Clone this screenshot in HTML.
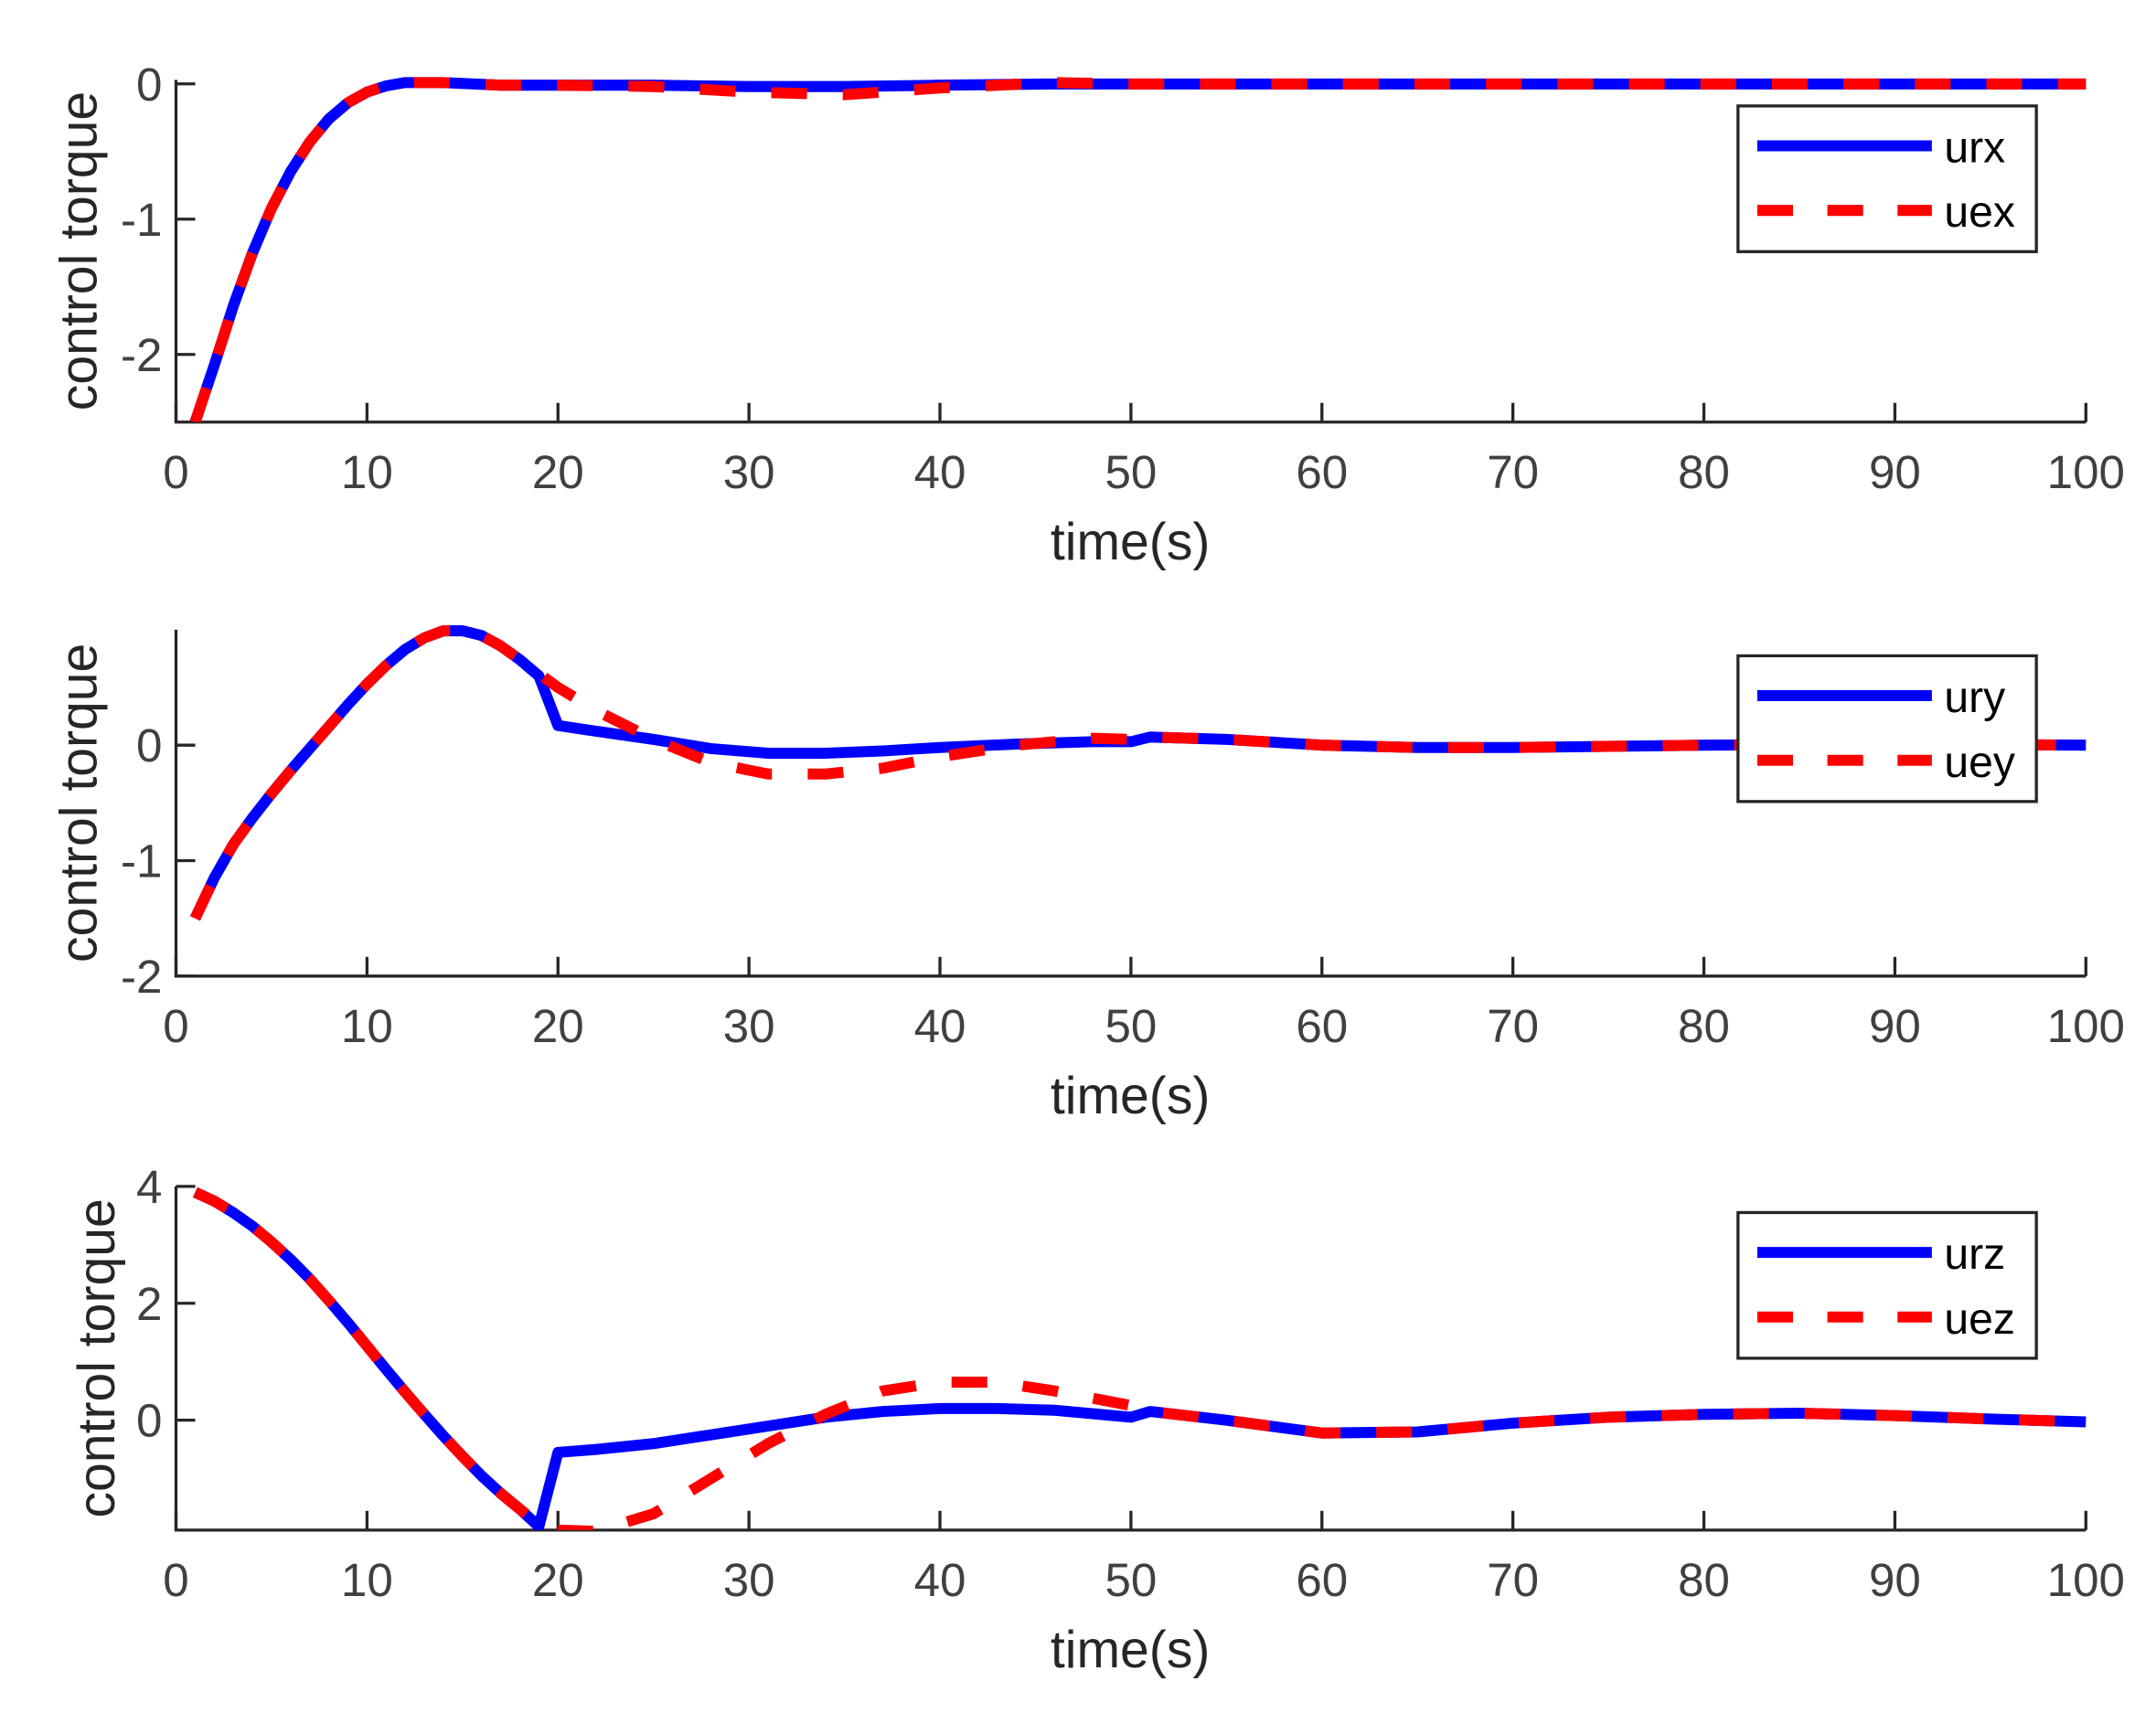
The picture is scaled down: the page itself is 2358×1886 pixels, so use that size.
<!DOCTYPE html>
<html><head><meta charset="utf-8"><style>
html,body{margin:0;padding:0;background:#fff;}
svg{display:block;}
text{font-family:"Liberation Sans",Arial,sans-serif;}
</style></head><body>
<svg id="fig" width="2358" height="1886" viewBox="0 0 1568 1254" xmlns="http://www.w3.org/2000/svg"></svg>
<script>
const xTicks=[0,10,20,30,40,50,60,70,80,90,100];
const t1=[1,2,3,4,5,6,7,8,9,10,11,12,14,17,20,25,30,35,40,46,50,60,70,80,90,100];
const urx=[-2.5,-2.08,-1.64,-1.25,-0.92,-0.65,-0.43,-0.26,-0.14,-0.06,-0.015,0.01,0.01,-0.01,-0.01,-0.01,-0.02,-0.02,-0.01,0,0,0,0,0,0,0];
const uex=[-2.5,-2.08,-1.64,-1.25,-0.92,-0.65,-0.43,-0.26,-0.14,-0.06,-0.015,0.01,0.01,-0.01,-0.01,-0.02,-0.06,-0.08,-0.03,0.01,0,0,0,0,0,0];
const yTicks1=[-2,-1,0];
const t2=[1,2,3,4,5,6,7,8,9,10,11,12,13,14,15,16,17,18,19,20,22,25,28,31,34,37,40,44,48,50,51,55,60,65,70,80,90,100];
const ury=[-1.5,-1.15,-0.86,-0.63,-0.42,-0.22,-0.03,0.16,0.35,0.53,0.69,0.83,0.93,0.99,0.99,0.95,0.86,0.74,0.6,0.17,0.12,0.05,-0.03,-0.07,-0.07,-0.05,-0.02,0.01,0.03,0.03,0.07,0.05,0,-0.02,-0.02,0,0.01,0];
const uey=[-1.5,-1.15,-0.86,-0.63,-0.42,-0.22,-0.03,0.16,0.35,0.53,0.69,0.83,0.93,0.99,0.99,0.95,0.86,0.74,0.62,0.5,0.3,0.05,-0.15,-0.25,-0.25,-0.2,-0.1,0,0.06,0.05,0.07,0.05,0,-0.02,-0.02,0,0.01,0];
const yTicks2=[-2,-1,0];
const t3=[1,2,3,4,5,6,7,8,9,10,11,12,13,14,15,16,17,18,19,20,22,25,28,31,34,37,40,43,46,50,51,55,60,65,70,75,80,85,90,95,100];
const urz=[3.9,3.75,3.55,3.32,3.05,2.75,2.42,2.05,1.67,1.27,0.87,0.48,0.1,-0.27,-0.62,-0.95,-1.25,-1.52,-1.82,-0.55,-0.5,-0.4,-0.25,-0.1,0.05,0.15,0.2,0.2,0.17,0.05,0.15,0,-0.22,-0.2,-0.05,0.05,0.1,0.12,0.08,0.02,-0.03];
const uez=[3.9,3.75,3.55,3.32,3.05,2.75,2.42,2.05,1.67,1.27,0.87,0.48,0.1,-0.27,-0.62,-0.95,-1.25,-1.52,-1.78,-1.88,-1.9,-1.6,-1.0,-0.4,0.1,0.5,0.65,0.65,0.5,0.25,0.15,0,-0.22,-0.2,-0.05,0.05,0.1,0.12,0.08,0.02,-0.03];
const yTicks3=[0,2,4];

const NS="http://www.w3.org/2000/svg";
const svg=document.getElementById('fig');
function mk(tag,attrs,parent){const e=document.createElementNS(NS,tag);for(const k in attrs)e.setAttribute(k,attrs[k]);(parent||svg).appendChild(e);return e;}
const X0=128,X1=1517;
function sx(v){return X0+(v-0)/(100-0)*(X1-X0);}

function panel(idx,top,bottom,ymin,ymax,yTicks,t,sa,sb,namA,namB,ylabX){
  const g=mk('g',{});
  
  
  const sy=v=>bottom-(v-ymin)/(ymax-ymin)*(bottom-top);
  const cp=mk('clipPath',{id:'cp'+idx},g);
  mk('rect',{x:X0,y:top-6,width:X1-X0+4,height:bottom-top+6},cp);
  const ax=mk('path',{d:`M${X0},${top} L${X0},${bottom} L${X1},${bottom}`,fill:'none',stroke:'#262626','stroke-width':2.2},g);
  
  
  xTicks.forEach(v=>{
    const x=sx(v);
    mk('line',{x1:x,x2:x,y1:bottom,y2:bottom-14,stroke:'#262626','stroke-width':2.2},g);
    const tx=mk('text',{x:x,y:bottom+48,'font-size':34,fill:'#404040','text-anchor':'middle'},g);
    tx.textContent=v;
    
    
  });
  yTicks.forEach(v=>{
    const y=sy(v);
    mk('line',{x1:X0,x2:X0+14,y1:y,y2:y,stroke:'#262626','stroke-width':2.2},g);
    const tx=mk('text',{x:X0-10,y:y+12,'font-size':34,fill:'#404040','text-anchor':'end'},g);
    tx.textContent=v;
    
    
  });
  const xl=mk('text',{x:822,y:bottom+100,'font-size':38,fill:'#262626','text-anchor':'middle'},g);
  xl.textContent='time(s)';
  
  
  const cy=(top+bottom)/2;
  const yl=mk('text',{x:ylabX+13,y:cy,'font-size':38,fill:'#262626','text-anchor':'middle',transform:`rotate(-90 ${ylabX+13} ${cy})`},g);
  yl.textContent='control torque';
  
  
  const pts=a=>t.map((v,i)=>sx(v).toFixed(1)+','+sy(a[i]).toFixed(1)).join(' ');
  const la=mk('polyline',{points:pts(sa),fill:'none',stroke:'#0000ff','stroke-width':8,'stroke-linejoin':'round','clip-path':`url(#cp${idx})`},g);
  
  
  const lb=mk('polyline',{points:pts(sb),fill:'none',stroke:'#ff0000','stroke-width':8,'stroke-linejoin':'round','stroke-dasharray':'26 26','clip-path':`url(#cp${idx})`},g);
  
  
  const lt=top+19;
  const lg=mk('g',{},g);
  
  
  mk('rect',{x:1264,y:lt,width:217,height:106,fill:'#fff',stroke:'#262626','stroke-width':2.2},lg);
  mk('line',{x1:1278,x2:1405,y1:lt+29,y2:lt+29,stroke:'#0000ff','stroke-width':8},lg);
  mk('line',{x1:1278,x2:1405,y1:lt+76,y2:lt+76,stroke:'#ff0000','stroke-width':8,'stroke-dasharray':'26 25'},lg);
  const e1=mk('text',{x:1414,y:lt+41,'font-size':32,fill:'#000'},lg);e1.textContent=namA;
  
  
  const e2=mk('text',{x:1414,y:lt+88,'font-size':32,fill:'#000'},lg);e2.textContent=namB;
  
  
}
panel(1,58,307,-2.5,0.03,yTicks1,t1,urx,uex,'urx','uex',57);
panel(2,458,710,-2,1,yTicks2,t2,ury,uey,'ury','uey',57);
panel(3,863,1113,-1.88,4,yTicks3,t3,urz,uez,'urz','uez',70);
</script>
</body></html>
